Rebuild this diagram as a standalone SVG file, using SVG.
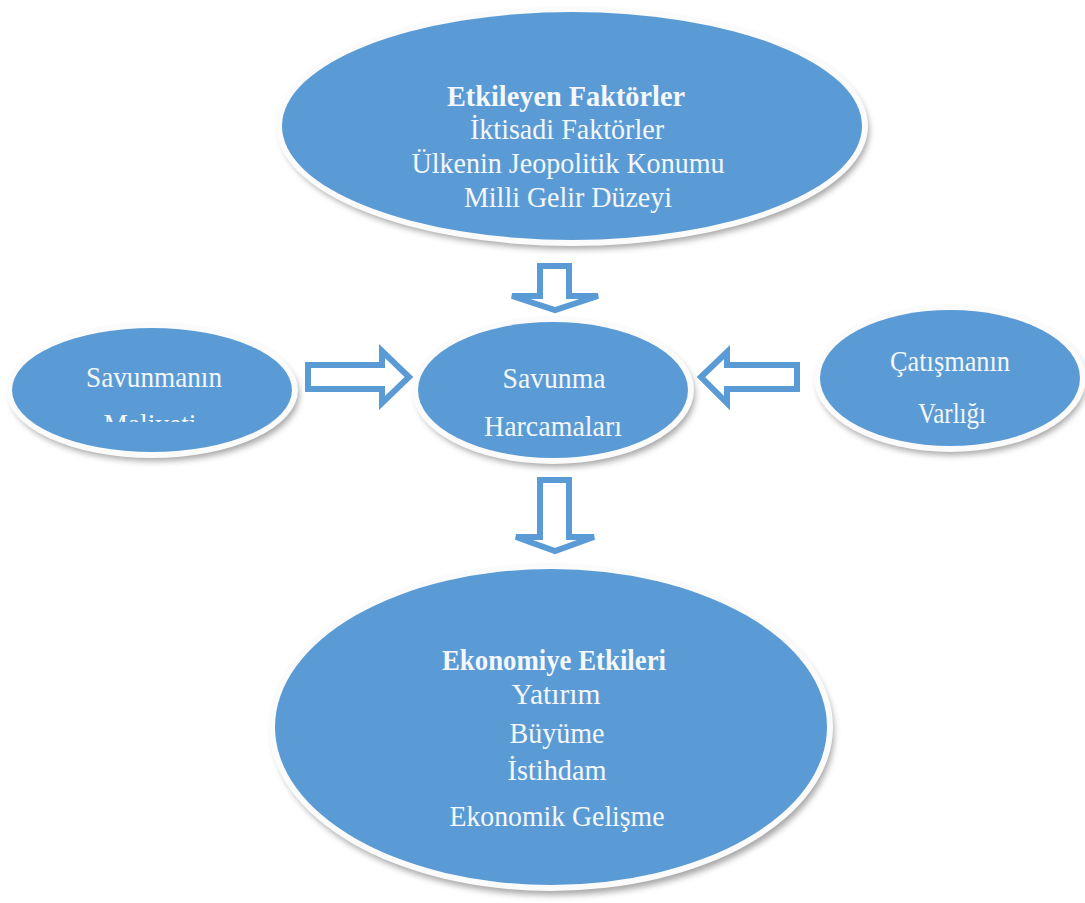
<svg xmlns="http://www.w3.org/2000/svg" width="1085" height="903" viewBox="0 0 1085 903">
<defs>
<filter id="sh" x="-10%" y="-10%" width="120%" height="130%">
<feGaussianBlur stdDeviation="3"/>
</filter>
<clipPath id="clipMal"><rect x="0" y="300" width="300" height="122"/></clipPath>
</defs>
<style>
.shadow{fill:#8f8f8f;filter:url(#sh);opacity:0.8}
.rim{fill:#fbfbfb}
.body{fill:#5b9bd5}
.t{fill:#f4f7fb;text-anchor:middle;font-size:29px}
.b{font-weight:bold}
.arrow{fill:#ffffff;stroke:#5b9bd5;stroke-width:6;stroke-linejoin:miter}
</style>
<rect width="1085" height="903" fill="#ffffff"/>

<g id="connectors">
<polygon class="arrow" points="540,266 569,266 569,296 598,296 555,310 512,296 540,296"/>
<polygon class="arrow" points="308,365 382,365 382,351 409,377 382,403 382,389 308,389"/>
<polygon class="arrow" points="701,377 727,352 727,365 797,365 797,389 727,389 727,403"/>
<polygon class="arrow" points="540,480 569,480 569,537 594,537 555,551 516,537 540,537"/>
</g>

<g id="node-etkileyen" font-family="Liberation Serif, Times New Roman, Tinos, serif">
<ellipse class="shadow" cx="575" cy="131" rx="294" ry="118"/>
<ellipse class="rim" cx="572" cy="126" rx="296" ry="120"/>
<ellipse class="body" cx="572" cy="126" rx="290" ry="114"/>
<text class="t b" x="566" y="106" textLength="238" lengthAdjust="spacingAndGlyphs">Etkileyen Faktörler</text>
<text class="t" x="567" y="139" textLength="194" lengthAdjust="spacingAndGlyphs">İktisadi Faktörler</text>
<text class="t" x="568" y="173" textLength="313" lengthAdjust="spacingAndGlyphs">Ülkenin Jeopolitik Konumu</text>
<text class="t" x="568" y="207" textLength="208" lengthAdjust="spacingAndGlyphs">Milli Gelir Düzeyi</text>
</g>

<g id="node-maliyet" font-family="Liberation Serif, Times New Roman, Tinos, serif">
<ellipse class="shadow" cx="155" cy="395" rx="144" ry="66"/>
<ellipse class="rim" cx="152" cy="390" rx="146" ry="68"/>
<ellipse class="body" cx="152" cy="390" rx="140" ry="62"/>
<text class="t" x="154" y="387" textLength="136" lengthAdjust="spacingAndGlyphs">Savunmanın</text>
<text class="t" x="150" y="434" textLength="93" lengthAdjust="spacingAndGlyphs" clip-path="url(#clipMal)">Maliyeti</text>
</g>

<g id="node-harcama" font-family="Liberation Serif, Times New Roman, Tinos, serif">
<ellipse class="shadow" cx="556" cy="395" rx="139" ry="72"/>
<ellipse class="rim" cx="553" cy="390" rx="141" ry="74"/>
<ellipse class="body" cx="553" cy="390" rx="135" ry="68"/>
<text class="t" x="554" y="388" textLength="103" lengthAdjust="spacingAndGlyphs">Savunma</text>
<text class="t" x="553" y="436" textLength="138" lengthAdjust="spacingAndGlyphs">Harcamaları</text>
</g>

<g id="node-catisma" font-family="Liberation Serif, Times New Roman, Tinos, serif">
<ellipse class="shadow" cx="952" cy="383" rx="134" ry="72"/>
<ellipse class="rim" cx="950" cy="378" rx="136" ry="74"/>
<ellipse class="body" cx="950" cy="378" rx="130" ry="68"/>
<text class="t" x="950" y="371" textLength="120" lengthAdjust="spacingAndGlyphs">Çatışmanın</text>
<text class="t" x="952" y="423" textLength="68" lengthAdjust="spacingAndGlyphs">Varlığı</text>
</g>

<g id="node-ekonomi" font-family="Liberation Serif, Times New Roman, Tinos, serif">
<ellipse class="shadow" cx="554" cy="733" rx="280" ry="162"/>
<ellipse class="rim" cx="551" cy="727" rx="282" ry="164"/>
<ellipse class="body" cx="551" cy="727" rx="276" ry="158"/>
<text class="t b" x="554" y="670" textLength="224" lengthAdjust="spacingAndGlyphs">Ekonomiye Etkileri</text>
<text class="t" x="556" y="704" textLength="89" lengthAdjust="spacingAndGlyphs">Yatırım</text>
<text class="t" x="557" y="743" textLength="95" lengthAdjust="spacingAndGlyphs">Büyüme</text>
<text class="t" x="557" y="780" textLength="99" lengthAdjust="spacingAndGlyphs">İstihdam</text>
<text class="t" x="557" y="826" textLength="215" lengthAdjust="spacingAndGlyphs">Ekonomik Gelişme</text>
</g>
</svg>
